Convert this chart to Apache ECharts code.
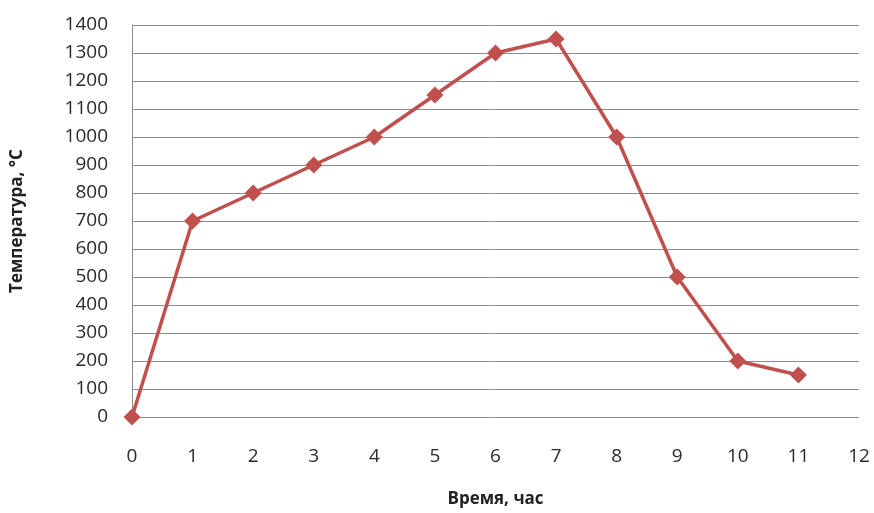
<!DOCTYPE html>
<html><head><meta charset="utf-8">
<script src="https://cdn.jsdelivr.net/npm/echarts@6/dist/echarts.min.js"></script>
<style>html,body{margin:0;padding:0;background:#fff}#c{width:874px;height:513px}</style>
</head><body><div id="c"></div>
<script>
const hours = [0,1,2,3,4,5,6,7,8,9,10,11];
const temps = [0,700,800,900,1000,1150,1300,1350,1000,500,200,150];
const chart = echarts.init(document.getElementById('c'));
chart.setOption({
  animation:false,
  grid:{left:132,right:15,top:25,bottom:94},
  xAxis:{type:'value',min:0,max:12,interval:1,
    name:'Время, час',nameLocation:'middle',nameGap:74,
    nameTextStyle:{fontFamily:'Open Sans',fontSize:17,fontWeight:'bold',color:'#222'},
    axisLine:{show:false},axisTick:{show:false},splitLine:{show:false},
    axisLabel:{fontFamily:'Open Sans',fontSize:19,color:'#2a2a2a',margin:30}},
  yAxis:{type:'value',min:0,max:1400,interval:100,
    name:'Температура, °С',nameLocation:'middle',nameGap:106,
    nameTextStyle:{fontFamily:'Open Sans',fontSize:17,fontWeight:'bold',color:'#222'},
    axisLine:{show:true,lineStyle:{color:'#8c8c8c'}},axisTick:{show:false},
    splitLine:{lineStyle:{color:'#8c8c8c',width:1}},
    axisLabel:{fontFamily:'Open Sans',fontSize:19,color:'#2a2a2a',margin:24,formatter:v=>String(v)}},
  series:[{type:'line',data:hours.map((h,i)=>[h,temps[i]]),
    symbol:'diamond',symbolSize:17,
    lineStyle:{color:'#c0504d',width:3.5},
    itemStyle:{color:'#c0504d'}}]
});
</script></body></html>
